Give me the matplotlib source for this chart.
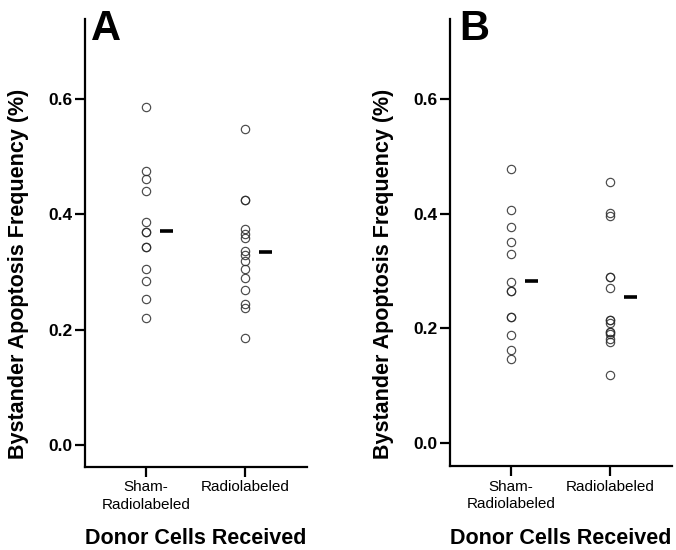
import matplotlib
matplotlib.use("Agg")
import matplotlib.pyplot as plt

plt.rcParams['font.family'] = ['Liberation Sans', 'DejaVu Sans']

categories = ["Sham-\nRadiolabeled", "Radiolabeled"]
yticks = [0.0, 0.2, 0.4, 0.6]

# Panel A
a_sham = [0.586, 0.475, 0.462, 0.441, 0.387, 0.370, 0.370, 0.344, 0.344,
          0.306, 0.285, 0.254, 0.220]
a_radio = [0.548, 0.425, 0.425, 0.374, 0.366, 0.359, 0.336, 0.329, 0.319,
           0.305, 0.289, 0.268, 0.244, 0.238, 0.185]
a_means = [0.371, 0.334]

# Panel B
b_sham = [0.478, 0.407, 0.377, 0.350, 0.329, 0.280, 0.265, 0.265, 0.219,
          0.219, 0.188, 0.163, 0.147]
b_radio = [0.456, 0.401, 0.396, 0.289, 0.289, 0.271, 0.215, 0.215, 0.210,
           0.194, 0.194, 0.190, 0.182, 0.176, 0.118]
b_means = [0.283, 0.254]

panels = [
    ("A", [a_sham, a_radio], a_means, [85/676, 1-466.5/550, 221.7/676, 447.2/550], -0.0378),
    ("B", [b_sham, b_radio], b_means, [450/676, 1-465.8/550, 221.7/676, 446.5/550], -0.0398),
]

fig = plt.figure(figsize=(6.76, 5.5), dpi=100)

letter_x = {"A": 91.0/676, "B": 459.0/676}
for letter, groups, means, rect, ymin in panels:
    ax = fig.add_axes(rect)
    for i, vals in enumerate(groups):
        xs = [i + 1] * len(vals)
        ax.plot(xs, vals, linestyle='none', marker='o', markersize=6.0,
                markerfacecolor='none', markeredgecolor='#2a2a2a',
                markeredgewidth=0.85, alpha=0.85)
        ax.hlines(means[i], i + 1 + 0.14, i + 1 + 0.27, colors='black',
                  linewidth=2.6)
    ax.set_xlim(0.39, 2.615)
    ax.set_ylim(ymin, 0.739)
    ax.set_xticks([1, 2])
    ax.set_xticklabels(categories, fontsize=11, linespacing=1.3)
    ax.set_yticks(yticks)
    ax.set_yticklabels([f"{v:.1f}" for v in yticks], fontsize=12.5,
                       fontweight='bold')
    for s in ['top', 'right']:
        ax.spines[s].set_visible(False)
    for s in ['left', 'bottom']:
        ax.spines[s].set_linewidth(1.6)
    ax.tick_params(axis='both', direction='out', length=7, width=1.6)
    ax.tick_params(axis='y', pad=2)
    ax.tick_params(axis='x', pad=3)
    ax.set_xlabel("Donor Cells Received", fontsize=15.5, fontweight='bold',
                  va='center')
    ax.xaxis.set_label_coords(0.5, -0.162)
    ax.set_ylabel("Bystander Apoptosis Frequency (%)", fontsize=15.5,
                  fontweight='bold', va='center', ha='center')
    ax.yaxis.set_label_coords(-0.301, 0.430)
    fig.text(letter_x[letter], 1 - 40.0/550, letter, fontsize=30,
             fontweight='bold', ha='left', va='baseline')

fig.savefig("out.png", dpi=100)
